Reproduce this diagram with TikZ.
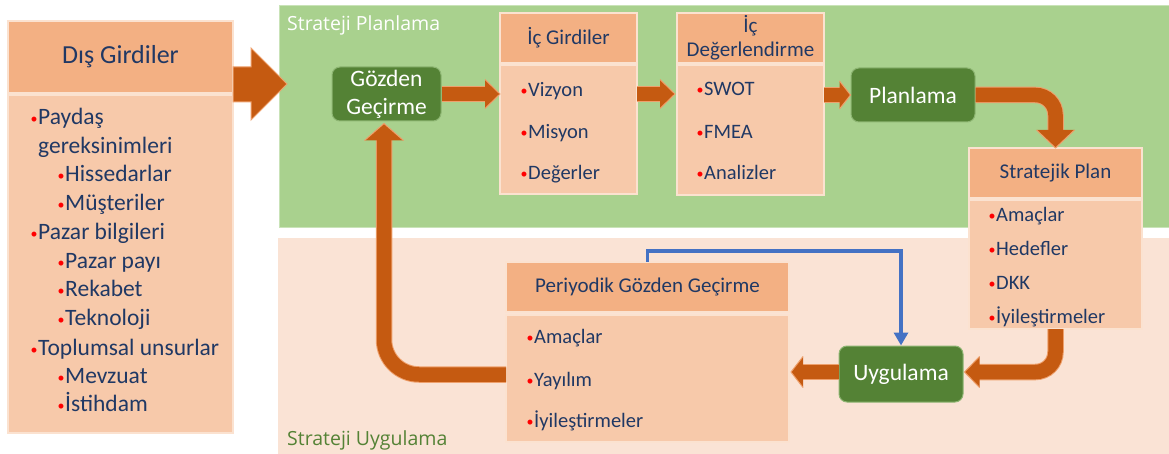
\documentclass[tikz,border=0pt]{standalone}
\usepackage{fontspec}
\setmainfont{Carlito}
\newfontfamily\regionfont{Open Sans}
\usetikzlibrary{calc,arrows.meta}

\definecolor{planbg}{HTML}{A9D18E}
\definecolor{planedge}{HTML}{C9E3B8}
\definecolor{applybg}{HTML}{FAE3D5}
\definecolor{headfill}{HTML}{F3B083}
\definecolor{bodyfill}{HTML}{F7C9AA}
\definecolor{boxedge}{HTML}{FBE2D0}
\definecolor{nodegreen}{HTML}{548235}
\definecolor{nodeedge}{HTML}{8DB572}
\definecolor{arrowfill}{HTML}{C55A11}
\definecolor{arrowedge}{HTML}{EEA06C}
\definecolor{navytext}{HTML}{203864}
\definecolor{bulletred}{HTML}{FF0000}
\definecolor{linkblue}{HTML}{4472C4}

% small red list bullet, set in its own fixed-width slot before the text
\newcommand\rb{\makebox[7.5pt][l]{\textcolor{bulletred}{\fontsize{14}{14}\selectfont\raisebox{1pt}{•}}}}

\tikzset{
  box/.style={rectangle, inner sep=0pt, outer sep=0pt, draw=boxedge, line width=1.2pt},
  headbox/.style={box, fill=headfill, text=navytext, align=center},
  bodybox/.style={box, fill=bodyfill},
  greennode/.style={rectangle, rounded corners=8pt, fill=nodegreen, draw=nodeedge,
    line width=1pt, text=white, align=center, inner sep=0pt,
    font=\fontsize{23.5}{28}\selectfont},
  item/.style={anchor=base west, inner sep=0pt, text=navytext},
  shaft/.style={draw=arrowedge, double=arrowfill, double distance=14.5pt, line width=1pt},
  pics/ahead/.style n args={2}{code={
    \fill[arrowfill] (0,0) -- (-#1,-#2) -- (-#1,#2) -- cycle;
    \draw[arrowedge, line width=1pt, line join=miter] (-#1,-#2) -- (0,0) -- (-#1,#2);
  }},
}

\begin{document}
\begin{tikzpicture}[x=1pt, y=-1pt]
\useasboundingbox (0,0) rectangle (1169,454);
\fill[white] (0,0) rectangle (1169,454);

% ---- the two stage regions ----
\filldraw[fill=planbg, draw=planedge, line width=1pt] (279,6) rectangle (1172,228);
\fill[applybg] (278,238) rectangle (1169,454);
\node[anchor=west, inner sep=0pt, text=white, font=\regionfont\fontsize{19.5}{22}\selectfont]
  (planlabel) at (287,25) {Strateji Planlama};
\node[anchor=west, inner sep=0pt, text=nodegreen, font=\regionfont\fontsize{19.5}{22}\selectfont]
  (applylabel) at (287,440) {Strateji Uygulama};

% ---- external inputs ----
\node[headbox, minimum width=225pt, minimum height=72pt, font=\fontsize{26}{30}\selectfont]
  (dh) at (120.5,57) {Dış Girdiler};
\node[bodybox, minimum width=225pt, minimum height=338pt] (db) at (120.5,264) {};
\begin{scope}[font=\fontsize{23.5}{28}\selectfont]
\foreach \x/\y/\t [count=\i] in {
  30.5/117/{\rb Paydaş}, 38/146/gereksinimleri,
  57.5/174/{\rb Hissedarlar}, 57.5/203/{\rb Müşteriler},
  30.5/232/{\rb Pazar bilgileri}, 57.5/261/{\rb Pazar payı},
  57.5/289/{\rb Rekabet}, 57.5/318/{\rb Teknoloji},
  30.5/348/{\rb Toplumsal unsurlar}, 57.5/376/{\rb Mevzuat},
  57.5/404/{\rb İstihdam}}
  \node[item] (d\i) at (\x,\y+7.5) {\t};
\end{scope}

% ---- internal inputs ----
\node[headbox, minimum width=137pt, minimum height=50pt, font=\fontsize{21}{24}\selectfont]
  (igh) at (568.5,38) {İç Girdiler};
\node[bodybox, minimum width=137pt, minimum height=129pt] (igb) at (568.5,129.5) {};
\foreach \y/\t [count=\i] in {90/Vizyon, 132/Misyon, 173/Değerler}
  \node[item, font=\fontsize{20.5}{24}\selectfont] (ig\i) at (520.5,\y+6.5) {\rb\t};

% ---- internal assessment ----
\node[headbox, minimum width=147pt, minimum height=50pt, font=\fontsize{21}{24}\selectfont]
  (idh) at (750.5,38) {İç\\Değerlendirme};
\node[bodybox, minimum width=147pt, minimum height=130pt] (idb) at (750.5,130) {};
\foreach \y/\t [count=\i] in {89/SWOT, 132/FMEA, 173/Analizler}
  \node[item, font=\fontsize{20.5}{24}\selectfont] (id\i) at (696.5,\y+6.5) {\rb\t};

% ---- strategic plan ----
\node[headbox, minimum width=173pt, minimum height=50pt, font=\fontsize{21}{24}\selectfont]
  (sph) at (1055.5,173) {Stratejik Plan};
\node[bodybox, minimum width=173pt, minimum height=129pt] (spb) at (1055.5,264.5) {};
\foreach \y/\t [count=\i] in {215/Amaçlar, 249/Hedefler, 283/DKK, 317/İyileştirmeler}
  \node[item, font=\fontsize{20.5}{24}\selectfont] (sp\i) at (988.5,\y+6.5) {\rb\t};

% ---- periodic review ----
\node[headbox, minimum width=283pt, minimum height=50pt, font=\fontsize{21}{24}\selectfont]
  (pgh) at (647.5,287) {Periyodik Gözden Geçirme};
\node[bodybox, minimum width=283pt, minimum height=127pt] (pgb) at (647.5,378.5) {};
\foreach \y/\t [count=\i] in {337/Amaçlar, 380/Yayılım, 421/İyileştirmeler}
  \node[item, font=\fontsize{20.5}{24}\selectfont] (pg\i) at (526.5,\y+6.5) {\rb\t};

% ---- process steps ----
\node[greennode, minimum width=109pt, minimum height=54pt] (gg) at (386.5,94) {Gözden\\Geçirme};
\node[greennode, minimum width=124pt, minimum height=54pt] (pl) at (913,95) {Planlama};
\node[greennode, minimum width=124pt, minimum height=56pt] (uy) at (901,374) {Uygulama};

% ---- block arrow into the planning stage ----
\filldraw[fill=arrowfill, draw=arrowedge, line width=1pt, line join=miter]
  (db.north east |- 0,67) -- (251,67) -- (251,48) -- (287,84) -- (251,120) -- (251,102)
  -- (db.north east |- 0,102) -- cycle;

% ---- flow arrows ----
\draw[shaft] (gg.east) -- ($(gg.east -| igb.west)+(-14,0)$);
\pic at (gg.east -| igb.west) {ahead={15}{14.5}};

\draw[shaft] (gg.east -| igb.east) -- ($(gg.east -| idb.west)+(-14,0)$);
\pic at ($(gg.east -| idb.west)+(-2,0)$) {ahead={15}{14.5}};

\draw[shaft] (pl.west -| idb.east) -- ($(pl.west)+(-10,0)$);
\pic at (pl.west) {ahead={11}{14}};

\draw[shaft, rounded corners=20pt] (pl.east) -| ($(sph.north)+(0,-17)$);
\pic[rotate=-90] at (sph.north) {ahead={18}{19}};

\draw[shaft, rounded corners=20pt] (spb.south) |- ($(uy.east)+(14,-2)$);
\pic[rotate=180] at ($(uy.east)+(1,-2)$) {ahead={15}{15.5}};

\draw[shaft] ($(uy.west)+(0,-2)$) -- ($(uy.west -| pgb.east)+(12,-2)$);
\pic[rotate=180] at ($(uy.west -| pgb.east)+(2,-2)$) {ahead={12}{15.5}};

\draw[shaft, rounded corners=35pt] ($(pgb.west)+(0,-4)$) -| ($(gg.south)+(-2.5,18)$);
\pic[rotate=90] at ($(gg.south)+(-2.5,2)$) {ahead={17}{19.5}};

% ---- review feedback link ----
\draw[linkblue, line width=3.5pt, -{Triangle[length=13pt,width=14pt]}]
  (pgh.north) -- ++(0,-11) -| (uy.north);
\end{tikzpicture}
\end{document}
